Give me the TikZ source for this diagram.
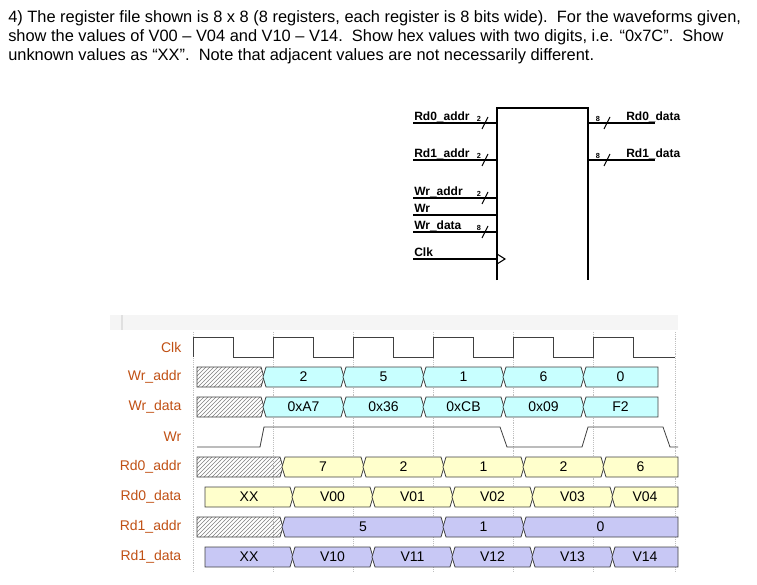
\documentclass[tikz,border=0pt]{standalone}
\usepackage{fontspec}
\setmainfont{Liberation Sans}
\usetikzlibrary{patterns}
\definecolor{lab}{RGB}{192,80,20}
\definecolor{cy}{RGB}{200,255,255}
\definecolor{ye}{RGB}{255,255,204}
\definecolor{pu}{RGB}{200,200,245}
\newcommand\bseg[6]{% fill, x1, x2, ytop, label, leftshape(1=pointed)
 \ifnum#6=1
 \draw[wv,fill=#1] (#2,#4+10) -- (#2+3,#4) -- (#3-3,#4) -- (#3,#4+10) -- (#3-3,#4+20) -- (#2+3,#4+20) -- cycle;
 \else
 \draw[wv,fill=#1] (#2,#4) -- (#3-3,#4) -- (#3,#4+10) -- (#3-3,#4+20) -- (#2,#4+20) -- cycle;
 \fi
 \node[wt] at ({(#2+#3)/2},#4+10) {#5};}
\newcommand\bend[5]{% flat right end
 \draw[wv,fill=#1] (#2,#4+10) -- (#2+3,#4) -- (#3,#4) -- (#3,#4+20) -- (#2+3,#4+20) -- cycle;
 \node[wt] at ({(#2+#3)/2},#4+10) {#5};}
\newcommand\hseg[3]{% x1 x2 ytop (flat left, pointed right)
 \draw[wv,pattern=north east lines,pattern color=gray] (#1,#3) -- (#2-3,#3) -- (#2,#3+10) -- (#2-3,#3+20) -- (#1,#3+20) -- cycle;}
\begin{document}
\begin{tikzpicture}[x=0.75pt,y=-0.75pt,
 wv/.style={draw=black!75,line width=0.6pt},
 wt/.style={font=\fontsize{10.5}{11}\selectfont},
 rl/.style={anchor=east,text=lab,font=\fontsize{10.5}{11}\selectfont},
 bl/.style={anchor=base west,font=\bfseries\fontsize{9}{10}\selectfont,inner sep=0},
 sn/.style={font=\bfseries\fontsize{5.5}{6}\selectfont,inner sep=0},
 tl/.style={anchor=base west,inner sep=0,font=\fontsize{12.3}{14}\selectfont}]
\useasboundingbox (0,0) rectangle (757,585);
% question text
\node[tl] (t1) at (8,23) {4) The register file shown is 8 x 8 (8 registers, each register is 8 bits wide).\ \ For the waveforms given,};
\node[tl] (t2) at (8,42) {show the values of V00 -- V04 and V10 -- V14.\ \ Show hex values with two digits, i.e. “0x7C”.\ \ Show};
\node[tl] (t3) at (8,61) {unknown values as “XX”.\ \ Note that adjacent values are not necessarily different.};
% register block
\draw[line width=1pt] (497,280) -- (497,108) -- (588,108) -- (588,280);
\foreach \y/\n in {123/Rd0\_addr,160/Rd1\_addr,198/Wr\_addr,215/Wr,232/Wr\_data,259/Clk}{
 \draw[line width=0.8pt] (413,\y) -- (497,\y);
 \node[bl] at (414,\y-3) {\n};}
\foreach \y/\w in {123/2,160/2,198/2,232/8}{
 \draw[line width=0.7pt] (482,\y+6) -- (488,\y-6);
 \node[sn] at (479,\y-4) {\w};}
\draw[line width=0.8pt] (497,254) -- (505,259) -- (497,264);
\foreach \y/\n in {123/Rd0\_data,160/Rd1\_data}{
 \draw[line width=0.8pt] (588,\y) -- (655,\y);
 \node[bl] at (626,\y-3) {\n};
 \draw[line width=0.7pt] (604,\y+6) -- (610,\y-6);
 \node[sn] at (598,\y-4) {8};}
% waveform area
\fill[black!4] (110,315) rectangle (678,330);
\draw[black!12,line width=1pt] (122,315) -- (122,330);
\foreach \x in {193,273,353,433,513,593,675}
 \draw[black!25,densely dotted,line width=0.4pt] (\x,332) -- (\x,572);
\foreach \y/\n in {347/Clk,377/Wr\_addr,407/Wr\_data,437/Wr,467/Rd0\_addr,497/Rd0\_data,527/Rd1\_addr,557/Rd1\_data}
 \node[rl] at (186,\y) {\n};
% clock
\draw[wv] (193,357) -- (193,337) -- (233,337) -- (233,357) -- (273,357) -- (273,337) -- (313,337) -- (313,357)
 -- (353,357) -- (353,337) -- (393,337) -- (393,357) -- (433,357) -- (433,337) -- (473,337) -- (473,357)
 -- (513,357) -- (513,337) -- (553,337) -- (553,357) -- (593,357) -- (593,337) -- (633,337) -- (633,357) -- (675,357);
% Wr_addr / Wr_data
\hseg{197}{264}{367}
\bseg{cy}{263}{344}{367}{2}{1}
\bseg{cy}{343}{424}{367}{5}{1}
\bseg{cy}{423}{504}{367}{1}{1}
\bseg{cy}{503}{584}{367}{6}{1}
\bend{cy}{583}{658}{367}{0}
\hseg{197}{264}{397}
\bseg{cy}{263}{344}{397}{0xA7}{1}
\bseg{cy}{343}{424}{397}{0x36}{1}
\bseg{cy}{423}{504}{397}{0xCB}{1}
\bseg{cy}{503}{584}{397}{0x09}{1}
\bend{cy}{583}{658}{397}{F2}
% Wr
\draw[wv] (197,447) -- (260,447) -- (264,427) -- (500,427) -- (507,447) -- (582,447) -- (588,427) -- (663,427) -- (670,447) -- (678,447);
% Rd0
\hseg{197}{283}{457}
\bseg{ye}{282}{364}{457}{7}{1}
\bseg{ye}{363}{444}{457}{2}{1}
\bseg{ye}{443}{524}{457}{1}{1}
\bseg{ye}{523}{604}{457}{2}{1}
\bend{ye}{603}{678}{457}{6}
\bseg{ye}{205}{293}{487}{XX}{0}
\bseg{ye}{292}{373}{487}{V00}{1}
\bseg{ye}{372}{453}{487}{V01}{1}
\bseg{ye}{452}{533}{487}{V02}{1}
\bseg{ye}{532}{613}{487}{V03}{1}
\bend{ye}{612}{678}{487}{V04}
% Rd1
\hseg{197}{283}{517}
\bseg{pu}{282}{444}{517}{5}{1}
\bseg{pu}{443}{524}{517}{1}{1}
\bend{pu}{523}{678}{517}{0}
\bseg{pu}{205}{293}{547}{XX}{0}
\bseg{pu}{292}{373}{547}{V10}{1}
\bseg{pu}{372}{453}{547}{V11}{1}
\bseg{pu}{452}{533}{547}{V12}{1}
\bseg{pu}{532}{613}{547}{V13}{1}
\bend{pu}{612}{678}{547}{V14}
\end{tikzpicture}
\end{document}
